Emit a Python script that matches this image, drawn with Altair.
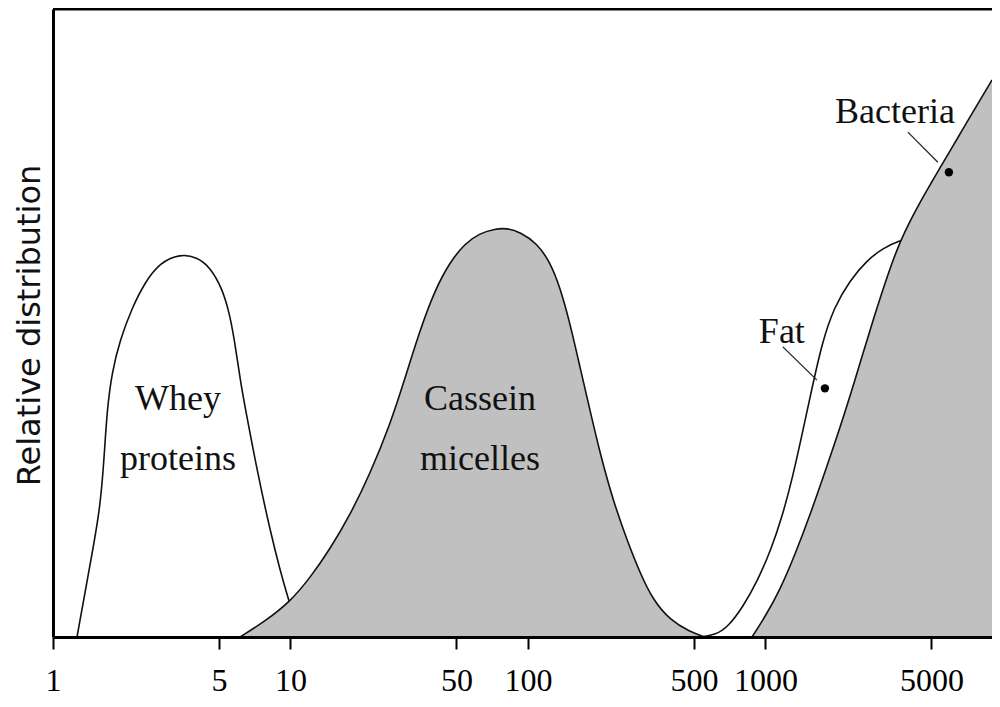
import altair as alt
import pandas as pd

# ---- data (particle size, relative distribution in % of axis height) ----
whey_size = [1.262, 1.432, 1.577, 1.640, 1.688, 1.772, 1.915, 2.151, 2.440, 2.822, 3.426,
             4.041, 4.583, 5.149, 5.565, 5.897, 6.190, 6.561, 7.229, 8.201, 9.035, 9.763, 10.97]
whey_dist = [0, 11.5, 20.2, 28.2, 36.1, 42.2, 47.3, 52.4, 56.5, 59.6, 61.0,
             60.5, 58.9, 55.6, 51.3, 45.7, 40.1, 35.0, 26.6, 17.0, 10.7, 6.2, 0]

casein_size = [6.132, 7.811, 9.954, 12.08, 14.67, 17.81, 21.63, 26.25, 30.36, 35.12, 40.61,
               46.97, 54.33, 62.84, 72.65, 81.61, 92.60, 109.2, 123.9, 136.5, 150.3, 165.6,
               182.5, 201.1, 228.1, 261.4, 296.4, 336.2, 396.4, 481.4, 556.6]
casein_dist = [0, 2.5, 5.6, 9.4, 14.0, 19.4, 26.0, 33.8, 41.2, 48.9, 55.3,
               59.7, 62.7, 64.3, 65.0, 65.1, 64.5, 62.7, 59.7, 55.7, 50.0, 43.0,
               36.1, 29.3, 21.8, 15.4, 10.2, 5.9, 2.7, 0.8, 0]

fat_size = [530.3, 613.3, 695.9, 804.6, 930.6, 1056, 1175, 1294, 1426, 1571, 1731, 1945,
            2271, 2678, 3127, 3688, 4265, 5989, 9000]
fat_dist = [0, 0.3, 1.6, 4.8, 9.1, 13.9, 19.1, 25.0, 32.2, 39.6, 46.8, 52.5,
            56.8, 60.0, 61.9, 63.2, 63.7, 60.8, 55.3]

bact_size = [878.1, 996, 1152, 1332, 1541, 1782, 2061, 2384, 2757, 3188, 3688, 4477,
             5436, 6598, 8011, 9000]
bact_dist = [0, 3.2, 7.5, 13.1, 19.4, 26.3, 33.3, 40.9, 48.9, 56.4, 63.2, 69.3,
             74.7, 80.1, 85.5, 88.7]

label_text = ["Whey", "proteins", "Cassein", "micelles", "Fat", "Bacteria"]
label_size = [3.36, 3.36, 62.8, 62.8, 1173, 3510]
label_dist = [36.1, 26.6, 36.1, 26.6, 46.8, 81.8]

dot_size = [1781, 5925]
dot_dist = [39.6, 74.0]

leader_id = ["fat", "fat", "bact", "bact"]
leader_size = [1185, 1648, 3981, 5325]
leader_dist = [46.2, 40.9, 80.4, 75.6]

tick_values = [1, 5, 10, 50, 100, 500, 1000, 5000]

# ---- chart ----
GRAY = "#c0c0c0"
LINE = {"color": "#111111", "strokeWidth": 1.6}

xscale = alt.Scale(type="log", domain=[1, 9000], nice=False)
yscale = alt.Scale(domain=[0, 100], nice=False, zero=True)

x_axis = alt.Axis(values=tick_values, title=None, format="d", grid=False,
                  domainColor="black", domainWidth=3, tickColor="black", tickWidth=2,
                  tickSize=12, labelFont="Liberation Serif", labelFontSize=32,
                  labelColor="black", labelPadding=41, labelBaseline="alphabetic",
                  labelFlush=False, labelOverlap=False, zindex=1)
y_axis = alt.Axis(title="Relative distribution", labels=False, ticks=False, grid=False,
                  domainColor="black", domainWidth=3, titleFont="DejaVu Sans",
                  titleFontSize=32, titleFontWeight="normal", titleColor="#111111",
                  titleAngle=270, titleX=-24, titleY=316, titleBaseline="middle",
                  titleAlign="center", zindex=1)


def enc(df_chart):
    return df_chart.encode(
        x=alt.X("size:Q", scale=xscale, axis=x_axis),
        y=alt.Y("dist:Q", scale=yscale, axis=y_axis),
    )


def curve(sizes, dists, fill):
    df = pd.DataFrame({"size": sizes, "dist": dists})
    return enc(alt.Chart(df).mark_area(color=fill, opacity=1, interpolate="basis",
                                       line=LINE))


whey = curve(whey_size, whey_dist, "white")
casein = curve(casein_size, casein_dist, GRAY)
fat = curve(fat_size, fat_dist, "white")
bact = curve(bact_size, bact_dist, GRAY)

labels = enc(alt.Chart(pd.DataFrame({"size": label_size, "dist": label_dist,
                                     "t": label_text}))
             .mark_text(font="Liberation Serif", fontSize=36, color="#111111",
                        align="center", baseline="alphabetic")).encode(text="t:N")

leaders = enc(alt.Chart(pd.DataFrame({"size": leader_size, "dist": leader_dist,
                                      "id": leader_id}))
              .mark_line(color="#222222", strokeWidth=1.3)).encode(detail="id:N")

dots = enc(alt.Chart(pd.DataFrame({"size": dot_size, "dist": dot_dist}))
           .mark_circle(color="black", size=70, opacity=1))

top = alt.Chart(pd.DataFrame({"v": [100]})).mark_rule(color="black", strokeWidth=3).encode(
    y=alt.Y("v:Q", scale=yscale, axis=y_axis))

chart = alt.layer(whey, casein, fat, bact, leaders, dots, labels, top).properties(
    width=939, height=628,
    autosize=alt.AutoSizeParams(type="none"),
    padding={"left": 45, "top": 1, "right": 0, "bottom": 62},
    background="white",
).configure_view(stroke=None)

chart.save("out.html", embed_options={"renderer": "svg", "actions": False})
